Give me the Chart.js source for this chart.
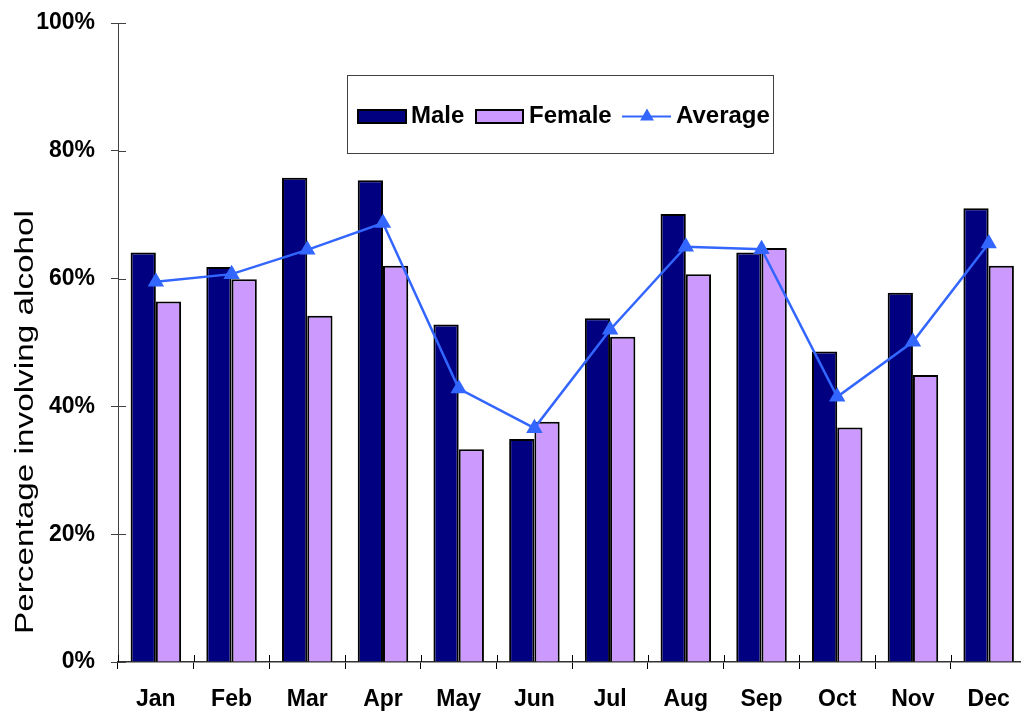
<!DOCTYPE html>
<html>
<head>
<meta charset="utf-8">
<script src="https://cdn.jsdelivr.net/npm/chart.js@4/dist/chart.umd.min.js"></script>
<style>
  html, body { margin: 0; padding: 0; background: #fff; overflow: hidden; }
  #wrap { width: 1036px; height: 713px; }
</style>
</head>
<body>
<div id="wrap"><canvas id="c" width="1036" height="713"></canvas></div>
<script>
const months = ['Jan','Feb','Mar','Apr','May','Jun','Jul','Aug','Sep','Oct','Nov','Dec'];
const maleValues   = [64.1, 61.8, 75.8, 75.4, 52.8, 34.9, 53.8, 70.1, 64.1, 48.6, 57.8, 71.0];
const femaleValues = [56.4, 59.9, 54.2, 62.0, 33.3, 37.6, 50.9, 60.7, 64.8, 36.7, 44.9, 62.0];
const averageValues= [59.5, 60.7, 64.5, 68.7, 42.8, 36.6, 52.0, 65.0, 64.6, 41.5, 50.1, 65.5];
const yTicks = [0, 20, 40, 60, 80, 100];
const yTitle = 'Percentage involving alcohol';

const FONT = "'Liberation Sans', Arial, Helvetica, sans-serif";
const NAVY = '#000080', LILAC = '#CC99FF', BLUE = '#3366FF';

const crossTicks = {
  id: 'crossTicks',
  afterDraw(chart) {
    const ctx = chart.ctx, ca = chart.chartArea;
    const ys = chart.scales.y;
    ctx.save();
    ctx.strokeStyle = '#404040';
    ctx.lineWidth = 1;
    yTicks.forEach(v => {
      const py = Math.round(ys.getPixelForValue(v)) + 0.5;
      ctx.beginPath(); ctx.moveTo(ca.left, py); ctx.lineTo(ca.left + 8, py); ctx.stroke();
    });
    const w = (ca.right - ca.left) / months.length;
    ctx.strokeStyle = '#000';
    for (let i = 0; i <= months.length; i++) {
      const px = Math.round(ca.left + i * w) + 0.5;
      ctx.beginPath(); ctx.moveTo(px, ca.bottom); ctx.lineTo(px, ca.bottom - 7); ctx.stroke();
    }
    ctx.restore();
  }
};

const legendAndTitle = {
  id: 'legendAndTitle',
  afterDraw(chart) {
    const ctx = chart.ctx;
    const ds = chart.data.datasets;
    ctx.save();
    ctx.fillStyle = '#fff';
    ctx.fillRect(347.5, 75.5, 426, 78);
    ctx.strokeStyle = '#404040';
    ctx.lineWidth = 1;
    ctx.strokeRect(347.5, 75.5, 426, 78);
    ctx.font = 'bold 24px ' + FONT;
    ctx.textBaseline = 'middle';
    const cy = 116.5;
    ctx.fillStyle = ds[1].backgroundColor; ctx.fillRect(358, 110, 48, 13);
    ctx.strokeStyle = '#000'; ctx.lineWidth = 2; ctx.strokeRect(358, 110, 48, 13);
    ctx.fillStyle = '#000'; ctx.fillText(ds[1].label, 411, cy);
    ctx.fillStyle = ds[2].backgroundColor; ctx.fillRect(476, 110, 47, 13);
    ctx.strokeRect(476, 110, 47, 13);
    ctx.fillStyle = '#000'; ctx.fillText(ds[2].label, 529, cy);
    ctx.strokeStyle = ds[0].borderColor; ctx.lineWidth = 2;
    ctx.beginPath(); ctx.moveTo(622, cy); ctx.lineTo(671, cy); ctx.stroke();
    ctx.fillStyle = ds[0].borderColor;
    const r = 8;
    ctx.beginPath();
    ctx.moveTo(647, cy - r);
    ctx.lineTo(647 + r * 0.866, cy + r * 0.5);
    ctx.lineTo(647 - r * 0.866, cy + r * 0.5);
    ctx.closePath(); ctx.fill();
    ctx.fillStyle = '#000'; ctx.fillText(ds[0].label, 676, cy);
    ctx.font = '25px ' + FONT;
    const tw = ctx.measureText(yTitle).width;
    ctx.translate(26, 422);
    ctx.rotate(-Math.PI / 2);
    ctx.scale(424 / tw, 1);
    ctx.textAlign = 'center';
    ctx.textBaseline = 'middle';
    ctx.fillText(yTitle, 0, 0);
    ctx.restore();
  }
};

new Chart(document.getElementById('c'), {
  data: {
    labels: months,
    datasets: [
      { type: 'line', label: 'Average', data: averageValues, borderColor: BLUE, backgroundColor: BLUE,
        borderWidth: 2.5, pointStyle: 'triangle', pointRadius: 7, pointHoverRadius: 7, tension: 0, order: 0 },
      { type: 'bar', label: 'Male', data: maleValues, backgroundColor: NAVY, borderColor: '#000',
        borderWidth: 2, categoryPercentage: 0.667, barPercentage: 1.0, order: 1 },
      { type: 'bar', label: 'Female', data: femaleValues, backgroundColor: LILAC, borderColor: '#000',
        borderWidth: 2, categoryPercentage: 0.667, barPercentage: 1.0, order: 1 }
    ]
  },
  options: {
    responsive: false,
    animation: false,
    devicePixelRatio: 1,
    layout: { padding: { top: 23, left: 0, right: 0, bottom: 0 } },
    plugins: { legend: { display: false }, tooltip: { enabled: false } },
    scales: {
      x: {
        offset: true,
        grid: { offset: true, drawOnChartArea: false, tickLength: 7, color: '#000', lineWidth: 1 },
        border: { color: '#333', width: 1.5 },
        ticks: { color: '#000', padding: 17, maxRotation: 0, autoSkip: false,
                 font: { family: FONT, size: 23, weight: 'bold' } },
        afterFit: s => { s.height = 51; s.paddingLeft = 0; s.paddingRight = 0; }
      },
      y: {
        min: 0, max: 100,
        afterBuildTicks: s => { s.ticks = yTicks.map(v => ({ value: v })); },
        grid: { drawOnChartArea: false, tickLength: 7, color: '#404040', lineWidth: 1 },
        border: { color: '#404040', width: 1 },
        ticks: { color: '#000', padding: 16, callback: v => v + '%',
                 font: { family: FONT, size: 23, weight: 'bold' } },
        afterFit: s => { s.width = 118; s.paddingTop = 0; s.paddingBottom = 0; }
      }
    }
  },
  plugins: [crossTicks, legendAndTitle]
});
</script>
</body>
</html>
